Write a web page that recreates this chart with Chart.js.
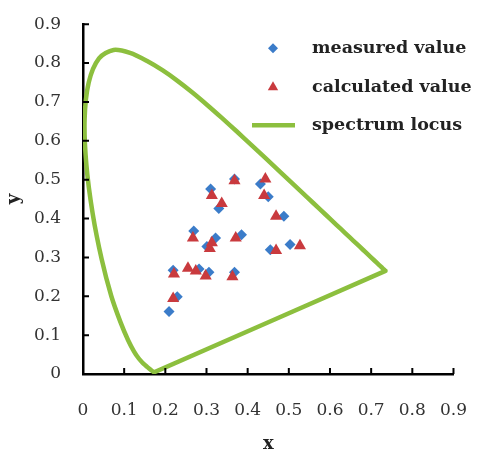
<!DOCTYPE html>
<html><head><meta charset="utf-8">
<script src="https://cdn.jsdelivr.net/npm/chart.js@4/dist/chart.umd.min.js"></script>
<style>html,body{margin:0;padding:0;background:#fff}</style>
</head><body>
<canvas id="c" width="485" height="450"></canvas>
<script>
// ---- data ----
const seriesLabels = ['measured value', 'calculated value', 'spectrum locus'];
const measuredX = [0.368, 0.431, 0.450, 0.310, 0.330, 0.488, 0.269, 0.322, 0.301, 0.385, 0.455, 0.503, 0.219, 0.282, 0.306, 0.368, 0.209, 0.229];
const measuredY = [0.502, 0.489, 0.456, 0.476, 0.426, 0.406, 0.368, 0.350, 0.328, 0.358, 0.320, 0.333, 0.267, 0.270, 0.262, 0.262, 0.161, 0.199];
const calculatedX = [0.368, 0.443, 0.440, 0.313, 0.337, 0.469, 0.267, 0.313, 0.308, 0.371, 0.469, 0.527, 0.221, 0.255, 0.274, 0.298, 0.363, 0.219];
const calculatedY = [0.497, 0.502, 0.459, 0.459, 0.439, 0.406, 0.350, 0.338, 0.323, 0.350, 0.318, 0.330, 0.257, 0.272, 0.265, 0.252, 0.250, 0.194];
const locusX = [0.1741, 0.1733, 0.1714, 0.1689, 0.1644, 0.1566, 0.1510, 0.1440, 0.1355, 0.1241, 0.1096, 0.0913, 0.0687, 0.0454, 0.0235, 0.0082, 0.0039, 0.0139, 0.0389, 0.0743, 0.1142, 0.1547, 0.1929, 0.2296, 0.2658, 0.3016, 0.3373, 0.3731, 0.4087, 0.4441, 0.4788, 0.5125, 0.5448, 0.5752, 0.6029, 0.6270, 0.6482, 0.6658, 0.6801, 0.6915, 0.7079, 0.7190, 0.7260, 0.7300, 0.7334, 0.7347, 0.1741];
const locusY = [0.0050, 0.0048, 0.0051, 0.0069, 0.0109, 0.0177, 0.0227, 0.0297, 0.0399, 0.0578, 0.0868, 0.1327, 0.2007, 0.2950, 0.4127, 0.5384, 0.6548, 0.7502, 0.8120, 0.8338, 0.8262, 0.8059, 0.7816, 0.7543, 0.7243, 0.6923, 0.6589, 0.6245, 0.5896, 0.5547, 0.5202, 0.4866, 0.4544, 0.4242, 0.3965, 0.3725, 0.3514, 0.3340, 0.3197, 0.3083, 0.2920, 0.2809, 0.2740, 0.2700, 0.2666, 0.2653, 0.0050];
const xTicks = [0, 0.1, 0.2, 0.3, 0.4, 0.5, 0.6, 0.7, 0.8, 0.9];
const yTicks = [0, 0.1, 0.2, 0.3, 0.4, 0.5, 0.6, 0.7, 0.8, 0.9];

const BLUE = '#3b7cc9', RED = '#c93a3e', GREEN = '#8cbf3e';
const FONT = 'DejaVu Serif';

const zip = (xs, ys) => xs.map((x, i) => ({x: x, y: ys[i]}));
const fmt = v => (v === 0 ? '0' : v.toFixed(1));

const tickMarks = {
  id: 'tickMarks',
  afterDraw(chart) {
    const {ctx, chartArea, scales} = chart;
    ctx.save();
    ctx.strokeStyle = '#000';
    ctx.lineWidth = 2;
    ctx.beginPath();
    scales.x.ticks.forEach(t => {
      const p = scales.x.getPixelForValue(t.value);
      ctx.moveTo(p, chartArea.bottom); ctx.lineTo(p, chartArea.bottom - 6);
    });
    scales.y.ticks.forEach(t => {
      const p = scales.y.getPixelForValue(t.value);
      ctx.moveTo(chartArea.left, p); ctx.lineTo(chartArea.left + 6, p);
    });
    ctx.stroke();
    ctx.restore();
  }
};

const innerLegend = {
  id: 'innerLegend',
  afterDraw(chart) {
    const {ctx, chartArea} = chart;
    const sx = chartArea.left + 190, tx = chartArea.left + 229;
    const rows = [chartArea.top + 24, chartArea.top + 63, chartArea.top + 101];
    ctx.save();
    ctx.font = 'bold 17.5px "' + FONT + '"';
    ctx.fillStyle = '#222';
    ctx.textBaseline = 'middle';
    chart.data.datasets.forEach((ds, i) => {
      const y = rows[i];
      if (ds.pointStyle === 'rectRot') {
        const r = 5;
        ctx.fillStyle = ds.backgroundColor;
        ctx.beginPath();
        ctx.moveTo(sx, y - r); ctx.lineTo(sx + r, y); ctx.lineTo(sx, y + r); ctx.lineTo(sx - r, y);
        ctx.closePath(); ctx.fill();
      } else if (ds.pointStyle === 'triangle') {
        const r = 6;
        ctx.fillStyle = ds.backgroundColor;
        ctx.beginPath();
        ctx.moveTo(sx, y - r); ctx.lineTo(sx + r * 0.866, y + r / 2); ctx.lineTo(sx - r * 0.866, y + r / 2);
        ctx.closePath(); ctx.fill();
      } else {
        ctx.strokeStyle = ds.borderColor;
        ctx.lineWidth = 4.5;
        ctx.beginPath(); ctx.moveTo(sx - 21, y); ctx.lineTo(sx + 22, y); ctx.stroke();
      }
      ctx.fillStyle = '#222';
      ctx.fillText(ds.label, tx, y);
    });
    ctx.restore();
  }
};

new Chart(document.getElementById('c'), {
  type: 'scatter',
  data: {
    datasets: [
      {label: seriesLabels[0], data: zip(measuredX, measuredY), pointStyle: 'rectRot', pointRadius: 5.5, pointHoverRadius: 5.5,
       backgroundColor: BLUE, borderColor: BLUE, borderWidth: 0, order: 3},
      {label: seriesLabels[1], data: zip(calculatedX, calculatedY), pointStyle: 'triangle', pointRadius: 7, pointHoverRadius: 7,
       backgroundColor: RED, borderColor: RED, borderWidth: 0, order: 2},
      {label: seriesLabels[2], type: 'line', data: zip(locusX, locusY), showLine: true, pointRadius: 0, borderColor: GREEN,
       backgroundColor: GREEN, borderWidth: 4.5, tension: 0.3, fill: false, order: 1, borderJoinStyle: 'round', borderCapStyle: 'round'}
    ]
  },
  options: {
    responsive: false,
    animation: false,
    devicePixelRatio: 1,
    layout: {padding: {top: 17, right: 28, left: 0, bottom: 0}},
    plugins: {legend: {display: false}, tooltip: {enabled: false}},
    scales: {
      x: {
        type: 'linear', min: 0, max: 0.9,
        afterBuildTicks: s => { s.ticks = xTicks.map(v => ({value: v})); },
        afterFit: s => { s.height = 76; },
        grid: {display: false},
        border: {display: true, color: '#000', width: 2.5},
        ticks: {padding: 18, color: '#333', font: {family: FONT, size: 17}, callback: v => fmt(v), maxRotation: 0, autoSkip: false},
        title: {display: true, text: 'x', color: '#222', font: {family: FONT, size: 18, weight: 'bold'}, padding: {top: 0, bottom: -5}}
      },
      y: {
        type: 'linear', min: 0, max: 0.9,
        afterBuildTicks: s => { s.ticks = yTicks.map(v => ({value: v})); },
        afterFit: s => { s.width = 83; },
        grid: {display: false},
        border: {display: true, color: '#000', width: 2.5},
        ticks: {padding: 14, color: '#333', font: {family: FONT, size: 17}, callback: v => fmt(v), autoSkip: false},
        title: {display: true, text: 'y', color: '#222', font: {family: FONT, size: 18, weight: 'bold'}, padding: {top: 4, bottom: 0}}
      }
    }
  },
  plugins: [tickMarks, innerLegend]
});
</script>
</body></html>
